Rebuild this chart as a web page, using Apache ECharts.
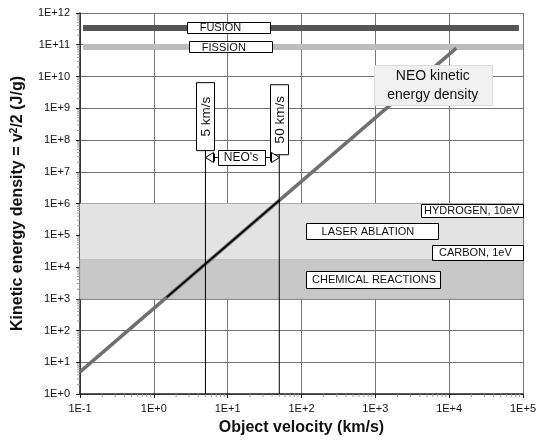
<!DOCTYPE html>
<html><head><meta charset="utf-8">
<script src="https://cdn.jsdelivr.net/npm/echarts@6/dist/echarts.min.js"></script>
<style>html,body{margin:0;padding:0;background:#fff}#c{width:539px;height:441px}</style>
</head><body><div id="c"></div>
<script>
// ---- data ----
const xTickLabels = ['1E-1','1E+0','1E+1','1E+2','1E+3','1E+4','1E+5'];
const yTickLabels = ['1E+0','1E+1','1E+2','1E+3','1E+4','1E+5','1E+6','1E+7','1E+8','1E+9','1E+10','1E+11','1E+12'];
const neoLine = [[0.1, 5], [12500, 7.8e10]];          // KE = v^2/2 (J/g), v in km/s
const neoRange = [[1.5, 1125], [50, 1.25e6]];         // highlighted black segment
const fusionLine = [[0.11, 3.4e11], [8.8e4, 3.4e11]];
const fissionLine = [[0.11, 8.5e10], [1e5, 8.5e10]];
const laserBand = [1.7e4, 1e6];
const chemBand = [1e3, 1.7e4];
const markerVel = [5, 50];
const markerTop = [4.7e7, 3.6e7];
const minorMant = [2,3,4,5,6,7,8,9];

const FONT = '"Liberation Sans", Arial, Helvetica, sans-serif';
const xMin = 0.1, xMax = 1e5, yMin = 1, yMax = 1e12;

const minorX = [], minorY = [];
for (let e = -1; e < 5; e++) minorMant.forEach(m => minorX.push([m * Math.pow(10, e), yMin]));
for (let e = 0; e < 12; e++) minorMant.forEach(m => minorY.push([xMin, m * Math.pow(10, e)]));

const chart = echarts.init(document.getElementById('c'), null, {renderer: 'canvas'});

const lbl = (arr, v, base) => arr[Math.round(Math.log10(v)) - base] || '';

chart.setOption({
  animation: false,
  backgroundColor: '#fff',
  grid: {left: 80, right: 15, top: 13, bottom: 45, containLabel: false},
  xAxis: {
    type: 'log', logBase: 10, min: xMin, max: xMax, splitNumber: 6, interval: 1,
    axisLine: {lineStyle: {color: '#222', width: 1.5}},
    axisTick: {show: true, length: 4, lineStyle: {color: '#222'}},
    minorTick: {show: false},
    splitLine: {show: true, lineStyle: {color: '#777', width: 1}},
    axisLabel: {formatter: v => lbl(xTickLabels, v, -1), fontSize: 11, color: '#111', fontFamily: FONT, margin: 9},
    name: 'Object velocity (km/s)', nameLocation: 'middle', nameGap: 26,
    nameTextStyle: {fontWeight: 'bold', fontSize: 16, fontFamily: FONT, color: '#111'}
  },
  yAxis: {
    type: 'log', logBase: 10, min: yMin, max: yMax, splitNumber: 12, interval: 1,
    axisLine: {lineStyle: {color: '#222', width: 1.5}},
    axisTick: {show: true, length: 4, lineStyle: {color: '#222'}},
    splitLine: {show: true, lineStyle: {color: '#777', width: 1}},
    axisLabel: {formatter: v => lbl(yTickLabels, v, 0), fontSize: 11, color: '#111', fontFamily: FONT, margin: 10},
    name: 'Kinetic energy density = v{sup|2}/2 (J/g)', nameLocation: 'middle', nameGap: 50,
    nameTextStyle: {fontWeight: 'bold', fontSize: 16, fontFamily: FONT, color: '#111', lineHeight: 18,
      rich: {sup: {fontSize: 10, fontWeight: 'bold', fontFamily: FONT, color: '#111', verticalAlign: 'top'}}}
  },
  series: [
    {type: 'line', data: [], z: 1, silent: true,
     markArea: {silent: true, data: [
       [{yAxis: laserBand[0], itemStyle: {color: '#e3e3e3'}}, {yAxis: laserBand[1]}],
       [{yAxis: chemBand[0], itemStyle: {color: '#c8c8c8', borderColor: '#bdbdbd', borderWidth: 1}}, {yAxis: chemBand[1]}]
     ]}},
    {type: 'line', data: fusionLine, symbol: 'none', z: 3, lineStyle: {color: '#555', width: 6}, silent: true},
    {type: 'line', data: fissionLine, symbol: 'none', z: 3, lineStyle: {color: '#bdbdbd', width: 6}, silent: true},
    {type: 'line', data: neoLine, symbol: 'none', z: 4, lineStyle: {color: '#707070', width: 3.5}, silent: true},
    {type: 'line', data: neoRange, symbol: 'none', z: 5, lineStyle: {color: '#000', width: 1.6}, silent: true},
    {type: 'line', data: [[markerVel[0], yMin], [markerVel[0], markerTop[0]]], symbol: 'none', z: 5, lineStyle: {color: '#000', width: 1}, silent: true},
    {type: 'line', data: [[markerVel[1], yMin], [markerVel[1], markerTop[1]]], symbol: 'none', z: 5, lineStyle: {color: '#000', width: 1}, silent: true},
    {type: 'custom', data: minorX, clip: false, z: 6, silent: true,
     renderItem: (p, api) => { const c = api.coord([api.value(0), api.value(1)]);
       return {type: 'line', shape: {x1: c[0], y1: c[1], x2: c[0], y2: c[1] + 3}, style: {stroke: '#999', lineWidth: 1}}; }},
    {type: 'custom', data: minorY, clip: false, z: 6, silent: true,
     renderItem: (p, api) => { const c = api.coord([api.value(0), api.value(1)]);
       return {type: 'line', shape: {x1: c[0] - 3, y1: c[1], x2: c[0], y2: c[1]}, style: {stroke: '#999', lineWidth: 1}}; }}
  ]
});

// ---- annotations (anchored in data coordinates) ----
const P = (x, y) => chart.convertToPixel({gridIndex: 0}, [x, y]);
const g = [];
function box(x0, y0, w, h, text, opt) {
  opt = opt || {};
  g.push({type: 'rect', z: 100, shape: {x: Math.round(x0) + 0.5, y: Math.round(y0) + 0.5, width: w, height: h},
    style: {fill: opt.fill || '#fff', stroke: opt.stroke || '#000', lineWidth: 1}});
  const pad = opt.pad;
  g.push({type: 'text', z: 101, style: {text: text, x: pad != null ? x0 + pad : x0 + w / 2, y: y0 + h / 2 + 0.5,
    align: pad != null ? 'left' : 'center', verticalAlign: 'middle',
    font: (opt.size || 11) + 'px ' + FONT, fill: '#111', lineHeight: opt.lh}});
}
// FUSION / FISSION
let c = P(10, fusionLine[0][1]); box(c[0] - 41, c[1] - 5.5, 83, 11, 'FUSION', {pad: 13});
c = P(10.7, fissionLine[0][1]); box(c[0] - 41, c[1] - 5.5, 83, 11, 'FISSION', {pad: 13});
// Velocity markers (rotated)
function vbox(v, top, len, text) {
  const p = P(v, top);
  g.push({type: 'group', x: Math.round(p[0]) + 0.5, y: p[1] + len / 2, rotation: Math.PI / 2, z: 100, children: [
    {type: 'rect', z: 100, shape: {x: -len / 2, y: -9, width: len, height: 18}, style: {fill: '#fff', stroke: '#000', lineWidth: 1}},
    {type: 'text', z: 101, style: {text: text, x: 0, y: 0.5, align: 'center', verticalAlign: 'middle', font: '13.5px ' + FONT, fill: '#111'}}
  ]});
}
vbox(markerVel[0], 6.4e9, 68, '5 km/s');
vbox(markerVel[1], 5.5e9, 70, '50 km/s');
// NEO's range arrow
const a = P(markerVel[0], 2.9e7), b = P(markerVel[1], 2.9e7);
const ym = Math.round(a[1]) + 0.5, xl = Math.round(a[0]) + 0.5, xr = Math.round(b[0]) + 0.5;
g.push({type: 'polygon', z: 100, shape: {points: [[xl, ym], [xl + 8, ym - 5], [xl + 8, ym + 5]]}, style: {fill: '#fff', stroke: '#000', lineWidth: 1}});
g.push({type: 'polygon', z: 100, shape: {points: [[xr, ym], [xr - 8, ym - 5], [xr - 8, ym + 5]]}, style: {fill: '#fff', stroke: '#000', lineWidth: 1}});
g.push({type: 'line', z: 100, shape: {x1: xl + 9, y1: ym - 4, x2: xl + 9, y2: ym + 4}, style: {stroke: '#000', lineWidth: 1}});
g.push({type: 'line', z: 100, shape: {x1: xr - 9, y1: ym - 4, x2: xr - 9, y2: ym + 4}, style: {stroke: '#000', lineWidth: 1}});
g.push({type: 'line', z: 100, shape: {x1: xl + 9, y1: ym, x2: xr - 9, y2: ym}, style: {stroke: '#000', lineWidth: 1}});
const mid = (xl + xr) / 2 - 1.5;
box(mid - 23.5, ym - 7.5, 47, 15, "NEO's", {size: 12});
// NEO kinetic energy density label
c = P(6000, 5.5e9);
box(c[0] - 59, c[1] - 20, 118, 40, 'NEO kinetic\nenergy density', {size: 14, lh: 19, fill: '#f1f1f1', stroke: '#dcdcdc'});
// Band labels
let r = P(xMax, 6.2e5); box(r[0] - 102, r[1] - 6.5, 102, 13, 'HYDROGEN, 10eV', {pad: 3});
r = P(xMax, 2.9e4); box(r[0] - 91, r[1] - 7.5, 91, 15, 'CARBON, 1eV', {pad: 7});
c = P(890, 1.35e5); box(c[0] - 66, c[1] - 8, 132, 16, 'LASER ABLATION', {pad: 16});
c = P(930, 4.1e3); box(c[0] - 67, c[1] - 8.5, 134, 17, 'CHEMICAL REACTIONS', {pad: 6});

chart.setOption({graphic: g});
</script>
</body></html>
